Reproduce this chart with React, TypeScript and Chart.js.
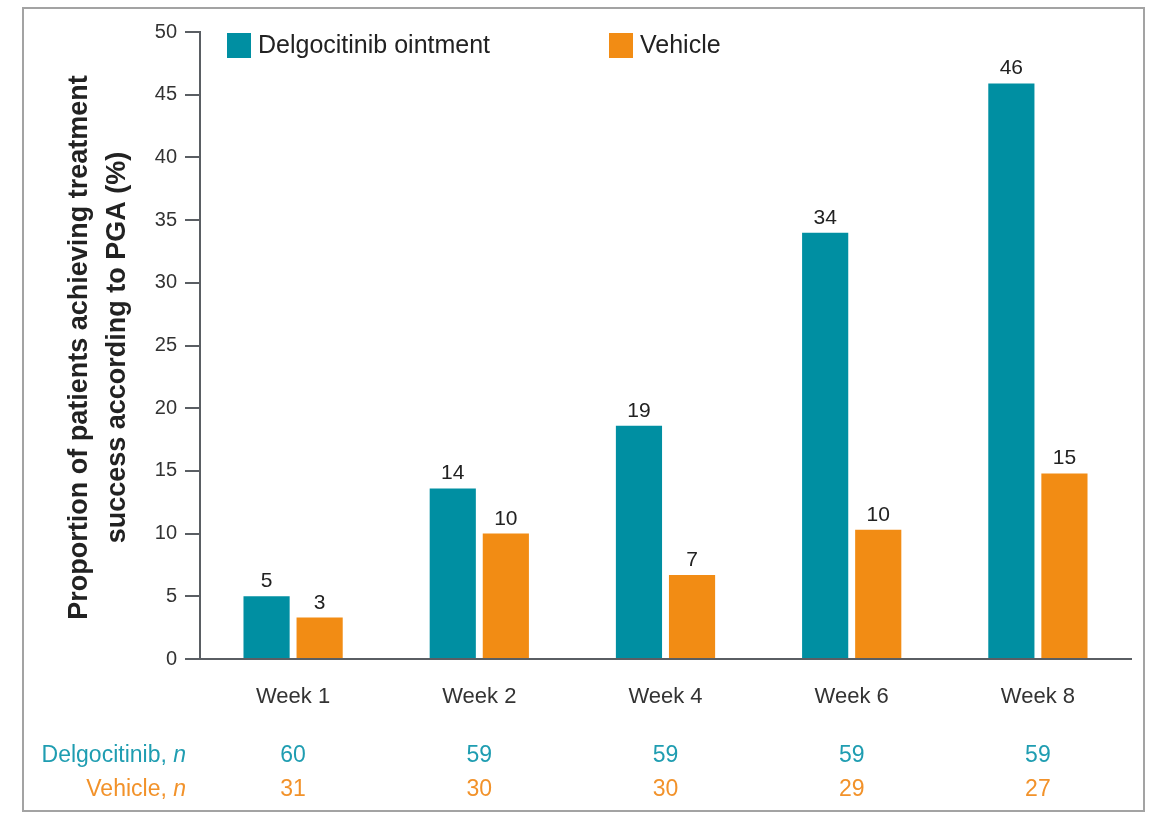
import React, { useEffect, useRef } from "react";
import { Chart, registerables } from "chart.js";

Chart.register(...registerables);

const categories = ["Week 1", "Week 2", "Week 4", "Week 6", "Week 8"];
const delgoValues = [5.0, 13.6, 18.6, 34.0, 45.9];
const vehicleValues = [3.3, 10.0, 6.7, 10.3, 14.8];
const delgoLabels = ["5", "14", "19", "34", "46"];
const vehicleLabels = ["3", "10", "7", "10", "15"];
const delgoN = ["60", "59", "59", "59", "59"];
const vehicleN = ["31", "30", "30", "29", "27"];
const seriesNames = ["Delgocitinib ointment", "Vehicle"];
const rowNames = ["Delgocitinib", "Vehicle"];
const yTitleLines = ["Proportion of patients achieving treatment", "success according to PGA (%)"];

const TEAL = "#008fa2";
const ORANGE = "#f28c14";
const TEAL_TEXT = "#1f9db1";
const ORANGE_TEXT = "#f2922a";
const FONT = "'Liberation Sans', Arial, Helvetica, sans-serif";

const overlayPlugin = {
  id: "overlay",
  afterDraw(chart: any) {
    const ctx = chart.ctx;
    const xs = chart.scales.x;
    ctx.save();
    // data labels
    ctx.font = `21px ${FONT}`;
    ctx.fillStyle = "#222";
    ctx.textAlign = "center";
    ctx.textBaseline = "alphabetic";
    const labelSets = [delgoLabels, vehicleLabels];
    chart.data.datasets.forEach((_ds: any, di: number) => {
      const meta = chart.getDatasetMeta(di);
      meta.data.forEach((bar: any, i: number) => {
        ctx.fillText(labelSets[di][i], bar.x, bar.y - 9);
      });
    });

    // legend
    const legendX = [227, 609];
    const colors = [TEAL, ORANGE];
    ctx.font = `25px ${FONT}`;
    ctx.textAlign = "left";
    ctx.textBaseline = "middle";
    seriesNames.forEach((name, i) => {
      ctx.fillStyle = colors[i];
      ctx.fillRect(legendX[i], 33, 24, 25);
      ctx.fillStyle = "#222";
      ctx.fillText(name, legendX[i] + 31, 46);
    });

    // y title
    ctx.font = `bold 27px ${FONT}`;
    ctx.fillStyle = "#222";
    ctx.textAlign = "center";
    const midY = (chart.chartArea.top + chart.chartArea.bottom) / 2 + 2;
    const titleX = [80, 118];
    yTitleLines.forEach((line, i) => {
      ctx.save();
      ctx.translate(titleX[i], midY);
      ctx.rotate(-Math.PI / 2);
      ctx.textBaseline = "middle";
      ctx.fillText(line, 0, 0);
      ctx.restore();
    });

    // n rows
    const rows = [
      { name: rowNames[0], vals: delgoN, color: TEAL_TEXT, y: 756 },
      { name: rowNames[1], vals: vehicleN, color: ORANGE_TEXT, y: 790 },
    ];
    ctx.textBaseline = "middle";
    rows.forEach((r) => {
      ctx.fillStyle = r.color;
      ctx.font = `italic 23px ${FONT}`;
      ctx.textAlign = "right";
      const nW = ctx.measureText("n").width;
      const rightEdge = 186;
      ctx.fillText("n", rightEdge, r.y);
      ctx.font = `23px ${FONT}`;
      ctx.fillText(r.name + ", ", rightEdge - nW, r.y);
      ctx.textAlign = "center";
      r.vals.forEach((v, i) => {
        ctx.fillText(v, xs.getPixelForValue(i), r.y);
      });
    });
    ctx.restore();
  },
};

export default function App() {
  const ref = useRef<HTMLCanvasElement | null>(null);
  useEffect(() => {
    if (!ref.current) return;
    const chart = new Chart(ref.current, {
      type: "bar",
      data: {
        labels: categories,
        datasets: [
          {
            label: seriesNames[0],
            data: delgoValues,
            backgroundColor: TEAL,
            barPercentage: 0.87,
            categoryPercentage: 0.57,
          },
          {
            label: seriesNames[1],
            data: vehicleValues,
            backgroundColor: ORANGE,
            barPercentage: 0.87,
            categoryPercentage: 0.57,
          },
        ],
      },
      options: {
        animation: false,
        responsive: false,
        maintainAspectRatio: false,
        layout: { padding: { top: 32, right: 22, bottom: 0, left: 0 } },
        plugins: {
          legend: { display: false },
          title: { display: false },
          tooltip: { enabled: false },
        },
        scales: {
          x: {
            grid: { display: false, drawTicks: false },
            border: { display: true, color: "#5a5e63", width: 2 },
            ticks: {
              font: { family: FONT, size: 22 },
              color: "#333",
              padding: 25,
            },
            afterFit: (scale: any) => {
              scale.height = 813 - 659;
            },
          },
          y: {
            min: 0,
            max: 50,
            ticks: {
              stepSize: 5,
              font: { family: FONT, size: 20 },
              color: "#333",
              padding: 8,
            },
            grid: {
              drawOnChartArea: false,
              drawTicks: true,
              tickLength: 15,
              color: "#5a5e63",
              lineWidth: 2,
            },
            border: { display: true, color: "#5a5e63", width: 2 },
            afterFit: (scale: any) => {
              scale.width = 200;
            },
          },
        },
      },
      plugins: [overlayPlugin],
    });
    return () => chart.destroy();
  }, []);

  return (
    <div style={{ position: "absolute", left: 0, top: 0, width: 1153, height: 813, background: "#fff", overflow: "hidden" }}>
      <canvas ref={ref} width={1153} height={813} style={{ position: "absolute", left: 0, top: 0, width: 1153, height: 813 }} />
      <div
        style={{
          position: "absolute",
          left: 22,
          top: 7,
          width: 1123,
          height: 805,
          boxSizing: "border-box",
          border: "2px solid #a3a3a3",
          pointerEvents: "none",
        }}
      />
    </div>
  );
}
